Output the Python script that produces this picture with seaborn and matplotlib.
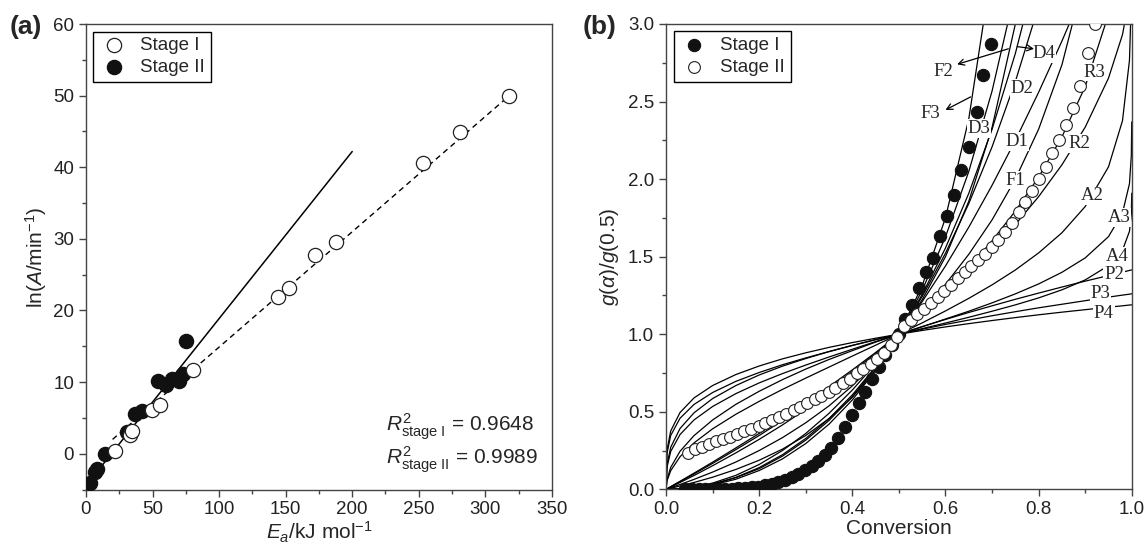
import numpy as np
import pandas as pd
import matplotlib
matplotlib.use("Agg")
import matplotlib.pyplot as plt
import seaborn as sns

sns.set_theme(style="ticks")
plt.rcParams["font.family"] = ["Liberation Sans", "DejaVu Sans"]
plt.rcParams["mathtext.fontset"] = "custom"
plt.rcParams["mathtext.rm"] = "Liberation Sans"
plt.rcParams["mathtext.it"] = "Liberation Sans:italic"
plt.rcParams["mathtext.bf"] = "Liberation Sans:bold"

# ---------------- panel (a): compensation plot ----------------
ea_stage1 = [21.7, 33.0, 34.3, 49.3, 55.5, 80.5, 144.2, 152.5, 172.0, 187.5, 253.5, 281.0, 318.0]
lnA_stage1 = [0.4, 2.6, 3.2, 6.1, 6.8, 11.7, 21.9, 23.1, 27.8, 29.5, 40.6, 44.9, 50.0]
ea_stage2 = [3.0, 6.7, 8.0, 14.3, 30.5, 36.8, 41.8, 54.2, 60.0, 65.0, 70.0, 73.0, 75.0]
lnA_stage2 = [-4.1, -2.5, -2.2, 0.0, 3.1, 5.6, 6.0, 10.2, 9.6, 10.4, 10.1, 11.2, 15.7]
fit_stage1_x = [20, 318]
fit_stage1_y = [2.0, 50.0]
fit_stage2_x = [2, 200]
fit_stage2_y = [-4.0, 42.2]

# ---------------- panel (b): master plots ----------------
alpha_grid = [0, 0.002, 0.01, 0.03, 0.06, 0.1, 0.15, 0.2, 0.25, 0.3, 0.35, 0.4, 0.45, 0.5,
              0.55, 0.6, 0.65, 0.7, 0.75, 0.8, 0.85, 0.9, 0.95, 0.98, 0.995, 0.999, 0.9999]
nan = np.nan
p2_g = [0, 0.063, 0.141, 0.245, 0.346, 0.447, 0.548, 0.632, 0.707, 0.775, 0.837, 0.894, 0.949, 1.0,
        1.049, 1.095, 1.140, 1.183, 1.225, 1.265, 1.304, 1.342, 1.378, 1.400, 1.411, 1.414, 1.414]
p3_g = [0, 0.159, 0.271, 0.392, 0.493, 0.585, 0.669, 0.737, 0.794, 0.843, 0.888, 0.928, 0.966, 1.0,
        1.032, 1.063, 1.091, 1.119, 1.145, 1.170, 1.193, 1.216, 1.239, 1.252, 1.258, 1.260, 1.260]
p4_g = [0, 0.252, 0.376, 0.495, 0.589, 0.669, 0.740, 0.795, 0.841, 0.880, 0.915, 0.946, 0.974, 1.0,
        1.024, 1.047, 1.068, 1.088, 1.107, 1.125, 1.142, 1.158, 1.174, 1.183, 1.188, 1.189, 1.189]
a2_g = [0, 0.054, 0.120, 0.210, 0.299, 0.390, 0.484, 0.567, 0.644, 0.717, 0.788, 0.859, 0.929, 1.0,
        1.073, 1.150, 1.231, 1.318, 1.414, 1.524, 1.654, 1.823, 2.079, 2.376, 2.765, 3.157, nan]
a3_g = [0, 0.142, 0.244, 0.353, 0.447, 0.534, 0.617, 0.686, 0.746, 0.801, 0.853, 0.903, 0.952, 1.0,
        1.048, 1.098, 1.148, 1.202, 1.260, 1.324, 1.399, 1.492, 1.629, 1.781, 1.970, 2.152, 2.369]
a4_g = [0, 0.232, 0.347, 0.458, 0.547, 0.624, 0.696, 0.753, 0.803, 0.847, 0.888, 0.927, 0.964, 1.0,
        1.036, 1.072, 1.109, 1.148, 1.189, 1.234, 1.286, 1.350, 1.442, 1.541, 1.663, 1.777, 1.909]
f1_g = [0, 0.003, 0.0145, 0.044, 0.089, 0.152, 0.235, 0.322, 0.415, 0.515, 0.622, 0.737, 0.863, 1.0,
        1.152, 1.322, 1.515, 1.737, 2.0, 2.322, 2.737, 3.322, nan, nan, nan, nan, nan]
r2_g = [0, 0.0034, 0.0171, 0.0516, 0.104, 0.175, 0.267, 0.360, 0.457, 0.558, 0.662, 0.770, 0.882, 1.0,
        1.124, 1.255, 1.394, 1.544, 1.707, 1.887, 2.092, 2.335, 2.651, 2.931, 3.173, nan, nan]
r3_g = [0, 0.0032, 0.0162, 0.049, 0.099, 0.167, 0.256, 0.347, 0.443, 0.543, 0.648, 0.759, 0.876, 1.0,
        1.133, 1.276, 1.431, 1.602, 1.794, 2.013, 2.272, 2.597, 3.062, nan, nan, nan, nan]
d1_g = [0, 0.0, 0.0004, 0.0036, 0.0144, 0.04, 0.09, 0.16, 0.25, 0.36, 0.49, 0.64, 0.81, 1.0,
        1.21, 1.44, 1.69, 1.96, 2.25, 2.56, 2.89, 3.24, nan, nan, nan, nan, nan]
d2_g = [0, 0.0, 0.0003, 0.003, 0.012, 0.034, 0.077, 0.140, 0.223, 0.328, 0.456, 0.609, 0.790, 1.0,
        1.243, 1.522, 1.842, 2.208, 2.629, 3.116, nan, nan, nan, nan, nan, nan, nan]
d3_g = [0, 0.0, 0.0003, 0.0024, 0.0098, 0.028, 0.065, 0.121, 0.196, 0.295, 0.420, 0.576, 0.767, 1.0,
        1.283, 1.628, 2.049, 2.568, 3.217, nan, nan, nan, nan, nan, nan, nan, nan]
d4_g = [0, 0.0, 0.0003, 0.0027, 0.0115, 0.032, 0.075, 0.133, 0.214, 0.317, 0.444, 0.598, 0.782, 1.0,
        1.256, 1.556, 1.908, 2.321, 2.810, 3.397, nan, nan, nan, nan, nan, nan, nan]
f2_g = [0, 0.002, 0.0101, 0.0309, 0.0638, 0.111, 0.176, 0.25, 0.333, 0.429, 0.538, 0.667, 0.818, 1.0,
        1.222, 1.5, 1.857, 2.333, 3.0, 4.0, nan, nan, nan, nan, nan, nan, nan]
f3_g = [0, 0.0013, 0.0068, 0.021, 0.044, 0.078, 0.128, 0.1875, 0.259, 0.347, 0.456, 0.593, 0.769, 1.0,
        1.313, 1.75, 2.388, 3.370, nan, nan, nan, nan, nan, nan, nan, nan, nan]

model_curves = {"P2": p2_g, "P3": p3_g, "P4": p4_g, "A2": a2_g, "A3": a3_g, "A4": a4_g,
                "F1": f1_g, "F2": f2_g, "F3": f3_g, "R2": r2_g, "R3": r3_g,
                "D1": d1_g, "D2": d2_g, "D3": d3_g, "D4": d4_g}

# labels sitting on the curves
label_names = ["D2", "D3", "D1", "F1", "R3", "R2", "A2", "A3", "A4", "P2", "P3", "P4"]
label_x = [0.765, 0.672, 0.754, 0.751, 0.919, 0.887, 0.915, 0.973, 0.969, 0.962, 0.933, 0.940]
label_y = [2.585, 2.327, 2.241, 1.994, 2.690, 2.231, 1.891, 1.751, 1.500, 1.382, 1.264, 1.135]
# labels with arrows: text position, arrow tail (on curve), arrow head
arrow_names = ["F2", "F3", "D4"]
arrow_text_xy = [(0.596, 2.695), (0.568, 2.425), (0.811, 2.810)]
arrow_tail_xy = [(0.735, 2.840), (0.654, 2.530), (0.754, 2.854)]
arrow_head_xy = [(0.625, 2.740), (0.600, 2.446), (0.790, 2.840)]

stage1_alpha = [0.041, 0.055, 0.070, 0.084, 0.098, 0.113, 0.127, 0.141, 0.155, 0.170,
                0.184, 0.198, 0.213, 0.227, 0.241, 0.255, 0.270, 0.284, 0.298, 0.313,
                0.327, 0.341, 0.355, 0.370, 0.384, 0.400, 0.414, 0.428, 0.442, 0.457,
                0.471, 0.485, 0.500, 0.514, 0.528, 0.543, 0.558, 0.574, 0.589, 0.604,
                0.618, 0.634, 0.650, 0.667, 0.681, 0.697]
stage1_g = [0.0, 0.0, 0.0, 0.001, 0.001, 0.002, 0.003, 0.004, 0.006, 0.009,
            0.013, 0.018, 0.025, 0.034, 0.046, 0.06, 0.078, 0.098, 0.122, 0.15,
            0.182, 0.22, 0.265, 0.33, 0.40, 0.48, 0.555, 0.63, 0.71, 0.79,
            0.865, 0.93, 1.0, 1.10, 1.19, 1.30, 1.40, 1.49, 1.63, 1.76,
            1.90, 2.06, 2.21, 2.43, 2.67, 2.87]
stage2_alpha = [0.048, 0.062, 0.077, 0.093, 0.108, 0.123, 0.138, 0.153, 0.168, 0.182,
                0.199, 0.213, 0.227, 0.243, 0.257, 0.274, 0.288, 0.303, 0.319, 0.333,
                0.349, 0.363, 0.379, 0.394, 0.409, 0.423, 0.439, 0.453, 0.467, 0.482,
                0.496, 0.510, 0.525, 0.539, 0.554, 0.568, 0.583, 0.597, 0.612, 0.626,
                0.641, 0.655, 0.670, 0.684, 0.699, 0.713, 0.728, 0.742, 0.757, 0.771,
                0.786, 0.800, 0.815, 0.829, 0.844, 0.858, 0.873, 0.888, 0.905, 0.921]
stage2_g = [0.232, 0.258, 0.275, 0.292, 0.309, 0.324, 0.339, 0.357, 0.374, 0.389,
            0.41, 0.43, 0.447, 0.468, 0.486, 0.509, 0.533, 0.554, 0.58, 0.604,
            0.63, 0.655, 0.683, 0.709, 0.748, 0.776, 0.808, 0.84, 0.881, 0.93,
            0.984, 1.05, 1.09, 1.13, 1.165, 1.20, 1.24, 1.28, 1.32, 1.36,
            1.40, 1.44, 1.48, 1.52, 1.56, 1.61, 1.66, 1.72, 1.79, 1.85,
            1.92, 2.0, 2.08, 2.17, 2.25, 2.35, 2.46, 2.60, 2.81, 3.0]

# ---------------- figure ----------------
fig = plt.figure(figsize=(11.46, 5.59), dpi=100)
ax1 = fig.add_axes([0.0750, 0.1243, 0.4066, 0.8327])
ax2 = fig.add_axes([0.5812, 0.1247, 0.4064, 0.8324])

tick_fs = 13.5
lab_fs = 15
spine_col = "#444444"

def style_axis(ax):
    for sp in ax.spines.values():
        sp.set_color(spine_col)
        sp.set_linewidth(1.0)
        sp.set_visible(True)
    ax.tick_params(which="both", direction="out", top=False, right=False,
                   colors=spine_col, labelcolor="#222222", labelsize=tick_fs)
    ax.tick_params(which="major", length=5, width=1.0)
    ax.tick_params(which="minor", length=3, width=1.0)
    ax.grid(False)

# panel (a)
ax1.plot(fit_stage2_x, fit_stage2_y, color="black", lw=1.1, zorder=2)
ax1.plot(fit_stage1_x, fit_stage1_y, color="black", lw=1.0, ls=(0, (4, 3)), zorder=2)
sns.scatterplot(x=ea_stage1, y=lnA_stage1, ax=ax1, marker="o", s=105, facecolor="white",
                edgecolor="#222222", linewidth=0.9, label="Stage I", zorder=4)
sns.scatterplot(x=ea_stage2, y=lnA_stage2, ax=ax1, marker="o", s=105, color="#111111",
                edgecolor="#111111", linewidth=0.9, label="Stage II", zorder=3)
ax1.set_xlim(0, 350)
ax1.set_ylim(-5, 60)
ax1.set_xticks(np.arange(0, 351, 50))
ax1.set_xticks(np.arange(25, 351, 50), minor=True)
ax1.set_yticks(np.arange(0, 61, 10))
ax1.set_yticks(np.arange(-5, 61, 10), minor=True)
ax1.set_xlabel(r"$E_a$/kJ mol$^{-1}$", fontsize=lab_fs, labelpad=1)
ax1.set_ylabel(r"ln($A$/min$^{-1}$)", fontsize=lab_fs, labelpad=3)
style_axis(ax1)
leg1 = ax1.legend(loc="upper left", fontsize=13.5, frameon=True, fancybox=False,
                  edgecolor="black", framealpha=1, borderaxespad=0.4, handletextpad=0.6,
                  borderpad=0.3, labelspacing=0.25, handlelength=1.6)
leg1.get_frame().set_linewidth(1.0)
ax1.text(225.5, 3.8, r"$R^{\mathit{2}}_{\mathrm{stage\ I}}$ = 0.9648", fontsize=15,
         va="center", ha="left")
ax1.text(225.5, -0.9, r"$R^{\mathit{2}}_{\mathrm{stage\ II}}$ = 0.9989", fontsize=15,
         va="center", ha="left")

# panel (b)
curve_rows = []
for name, vals in model_curves.items():
    for a, g in zip(alpha_grid, vals):
        curve_rows.append({"alpha": a, "g": g, "model": name})
curves = pd.DataFrame(curve_rows).dropna()
sns.lineplot(data=curves, x="alpha", y="g", units="model", estimator=None, sort=False,
             color="black", lw=0.9, ax=ax2, zorder=2, legend=False)

serif = ["Liberation Serif", "DejaVu Serif"]
for name, x, y in zip(label_names, label_x, label_y):
    ax2.text(x, y, name, family=serif, fontsize=13.5, ha="center", va="center", zorder=3,
             bbox=dict(facecolor="white", edgecolor="none", pad=0.5))
for name, txy, tail, head in zip(arrow_names, arrow_text_xy, arrow_tail_xy, arrow_head_xy):
    ax2.text(txy[0], txy[1], name, family=serif, fontsize=13.5, ha="center", va="center",
             zorder=3, bbox=dict(facecolor="white", edgecolor="none", pad=0.5))
    ax2.annotate("", xy=head, xytext=tail, zorder=3,
                 arrowprops=dict(arrowstyle="->,head_length=0.35,head_width=0.18",
                                 color="black", lw=0.9, shrinkA=0, shrinkB=0))

sns.scatterplot(x=stage1_alpha, y=stage1_g, ax=ax2, marker="o", s=78, color="#111111",
                edgecolor="#111111", linewidth=0.8, label="Stage I", zorder=4)
sns.scatterplot(x=stage2_alpha, y=stage2_g, ax=ax2, marker="o", s=72, facecolor="white",
                edgecolor="#222222", linewidth=0.8, label="Stage II", zorder=5)
ax2.set_xlim(0, 1.0)
ax2.set_ylim(0, 3.0)
ax2.set_xticks(np.arange(0, 1.01, 0.2))
ax2.set_xticks(np.arange(0.1, 1.0, 0.2), minor=True)
ax2.set_yticks(np.arange(0, 3.01, 0.5))
ax2.set_yticks(np.arange(0.25, 3.0, 0.5), minor=True)
ax2.xaxis.set_major_formatter(matplotlib.ticker.FormatStrFormatter("%.1f"))
ax2.yaxis.set_major_formatter(matplotlib.ticker.FormatStrFormatter("%.1f"))
ax2.set_xlabel("Conversion", fontsize=lab_fs, labelpad=1)
ax2.set_ylabel(r"$g(\alpha)/g(0.5)$", fontsize=lab_fs, labelpad=5)
style_axis(ax2)
leg2 = ax2.legend(loc="upper left", fontsize=13.5, frameon=True, fancybox=False,
                  edgecolor="black", framealpha=1, borderaxespad=0.4, handletextpad=0.6,
                  borderpad=0.3, labelspacing=0.25, handlelength=1.6)
leg2.get_frame().set_linewidth(1.0)

fig.text(10 / 1146, 1 - 27 / 559, "(a)", fontsize=19, fontweight="bold", va="center", ha="left")
fig.text(583 / 1146, 1 - 27 / 559, "(b)", fontsize=19, fontweight="bold", va="center", ha="left")

fig.savefig("out.png", dpi=100)
